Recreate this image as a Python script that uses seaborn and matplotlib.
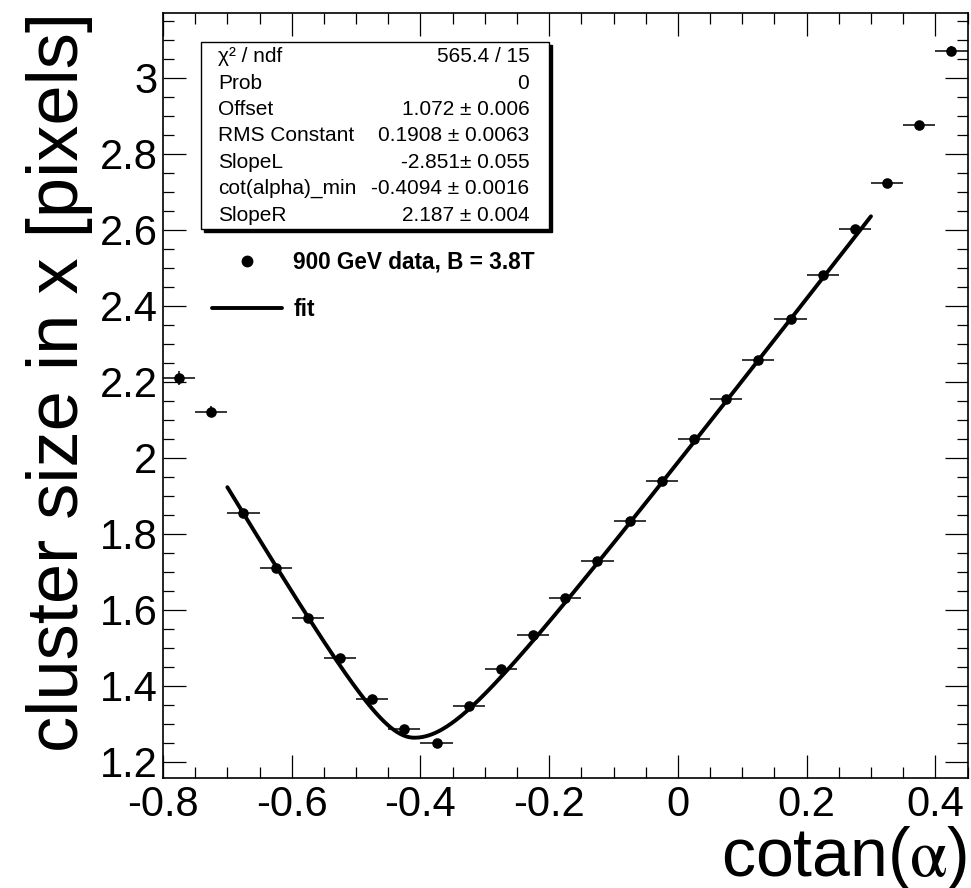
import numpy as np
import pandas as pd
import seaborn as sns
import matplotlib.pyplot as plt
from matplotlib.lines import Line2D
from matplotlib.patches import Rectangle
from matplotlib.ticker import MultipleLocator

# dados
cotan_alpha = [-0.775, -0.725, -0.675, -0.625, -0.575, -0.525, -0.475, -0.425, -0.375,
               -0.325, -0.275, -0.225, -0.175, -0.125, -0.075, -0.025, 0.025, 0.075,
               0.125, 0.175, 0.225, 0.275, 0.325, 0.375, 0.425]
cluster_size = [2.210, 2.121, 1.855, 1.709, 1.578, 1.473, 1.364, 1.287, 1.250,
                1.346, 1.444, 1.534, 1.631, 1.728, 1.833, 1.939, 2.049, 2.154,
                2.257, 2.365, 2.480, 2.601, 2.724, 2.876, 3.071]
erro_y = [0.019, 0.014, 0.008, 0.007, 0.006, 0.006, 0.006, 0.006, 0.006,
          0.005, 0.005, 0.005, 0.005, 0.005, 0.005, 0.005, 0.005, 0.005,
          0.005, 0.005, 0.006, 0.007, 0.008, 0.009, 0.012]
meia_largura = 0.025

# parametros do ajuste (caixa de estatisticas)
offset = 1.072
rms_const = 0.1908
slope_l = -2.851
cot_min = -0.4094
slope_r = 2.187
fit_range = (-0.7, 0.3)

stats_nomes = ['χ² / ndf', 'Prob', 'Offset', 'RMS Constant', 'SlopeL', 'cot(alpha)_min', 'SlopeR']
stats_valores = ['565.4 / 15', '0', '1.072 ± 0.006', '0.1908 ± 0.0063', '-2.851± 0.055',
                 '-0.4094 ± 0.0016', '2.187 ± 0.004']

df = pd.DataFrame({'x': cotan_alpha, 'y': cluster_size, 'ey': erro_y})

xf = np.linspace(fit_range[0], fit_range[1], 400)
slope = np.where(xf < cot_min, slope_l, slope_r)
df_fit = pd.DataFrame({'x': xf, 'y': offset + np.sqrt(rms_const**2 + (slope * (xf - cot_min))**2)})

sns.set_style('ticks')
plt.rcParams['font.family'] = ['Liberation Sans', 'DejaVu Sans']
plt.rcParams['mathtext.fontset'] = 'stix'
plt.rcParams['text.color'] = 'black'
plt.rcParams['axes.labelcolor'] = 'black'
plt.rcParams['xtick.color'] = 'black'
plt.rcParams['ytick.color'] = 'black'

W, H = 971, 888
fig = plt.figure(figsize=(W / 100, H / 100), dpi=100, facecolor='white')

def px(x, y):
    return x / W, 1 - y / H

x0, y0 = px(163, 778.3)
x1, y1 = px(967.7, 12.7)
ax = fig.add_axes([x0, y0, x1 - x0, y1 - y0])
ax.set_facecolor('white')

# barras de erro
ax.errorbar(df['x'], df['y'], xerr=meia_largura, yerr=df['ey'], fmt='none',
            ecolor='black', elinewidth=1.1, capsize=0, zorder=2)
sns.scatterplot(data=df, x='x', y='y', color='black', s=58, edgecolor='black',
                linewidth=0, zorder=3, ax=ax, legend=False)
sns.lineplot(data=df_fit, x='x', y='y', color='black', linewidth=2.8, ax=ax, zorder=4)

ax.set_xlim(-0.8, 0.4503)
ax.set_ylim(1.156, 3.171)
ax.xaxis.set_minor_locator(MultipleLocator(0.05))
ax.yaxis.set_minor_locator(MultipleLocator(0.05))
ax.set_xticks([-0.8, -0.6, -0.4, -0.2, 0, 0.2, 0.4])
ax.set_xticklabels(['-0.8', '-0.6', '-0.4', '-0.2', '0', '0.2', '0.4'])
ax.set_yticks([1.2, 1.4, 1.6, 1.8, 2, 2.2, 2.4, 2.6, 2.8, 3])
ax.set_yticklabels(['1.2', '1.4', '1.6', '1.8', '2', '2.2', '2.4', '2.6', '2.8', '3'])
ax.tick_params(which='both', direction='in', top=True, right=True, colors='black',
               labelcolor='black', labelsize=30)
ax.tick_params(which='major', length=16.5, width=0.9)
ax.tick_params(which='minor', length=8, width=0.9)
ax.tick_params(axis='x', pad=5)
ax.tick_params(axis='y', pad=4)
for s in ax.spines.values():
    s.set_visible(True)
    s.set_linewidth(1.2)
    s.set_color('black')
ax.set_xlabel('')
ax.set_ylabel('')

# titulos dos eixos
fig.text(*px(967, 876), 'cotan($\\mathrm{\\alpha}$)', ha='right', va='baseline', fontsize=49)
fig.text(*px(78, 382), 'cluster size in x [pixels]', rotation=90, rotation_mode='anchor',
         ha='center', va='baseline', fontsize=52)

# caixa de estatisticas com sombra
bx0, by0 = px(200.7, 229.3)
bx1, by1 = px(549, 41.7)
sombra = Rectangle((bx0 + 3 / W, by0 - 3 / H), bx1 - bx0, by1 - by0, transform=fig.transFigure,
                   facecolor='black', edgecolor='black', zorder=5)
caixa = Rectangle((bx0, by0), bx1 - bx0, by1 - by0, transform=fig.transFigure,
                  facecolor='white', edgecolor='black', linewidth=1.0, zorder=6)
fig.patches.extend([sombra, caixa])
for i, (nome, valor) in enumerate(zip(stats_nomes, stats_valores)):
    yy = 56.7 + i * 26.4
    fig.text(*px(218.3, yy), nome, ha='left', va='center', fontsize=15, zorder=7)
    fig.text(*px(529.3, yy), valor, ha='right', va='center', fontsize=15, zorder=7)

# legenda
handles = [Line2D([], [], marker='o', ls='none', color='black', markersize=7.5),
           Line2D([], [], color='black', linewidth=2.8)]
ax.legend(handles=handles, labels=['900 GeV data, B = 3.8T', 'fit'], loc='upper left',
          bbox_to_anchor=px(211.7, 251), bbox_transform=fig.transFigure, frameon=False,
          prop={'weight': 'bold', 'size': 16.3}, handlelength=3.1, handletextpad=0.5,
          labelspacing=1.05, borderpad=0, borderaxespad=0)

plt.savefig('out.png', dpi=100, facecolor='white')
plt.close()
